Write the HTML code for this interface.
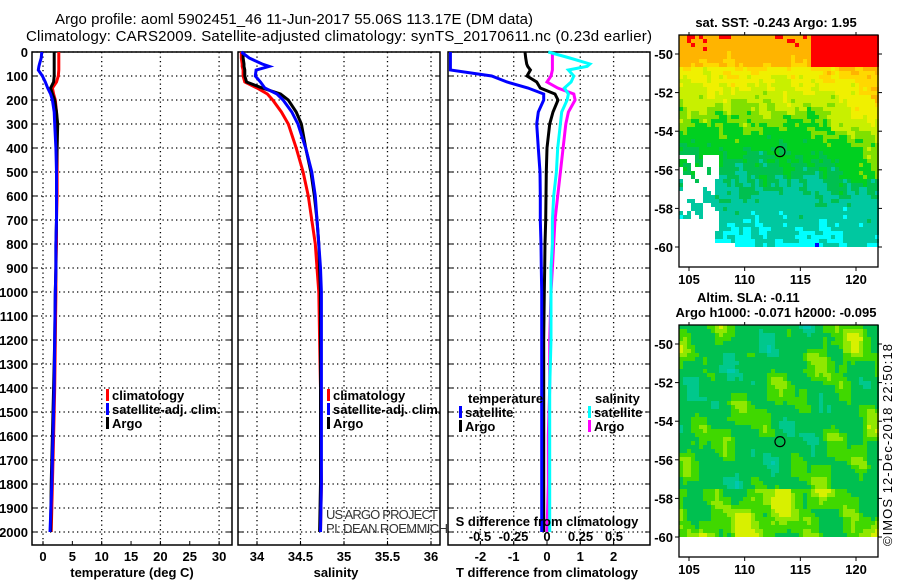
<!DOCTYPE html>
<html><head><meta charset="utf-8"><style>
html,body{margin:0;padding:0;background:#fff;width:900px;height:580px;overflow:hidden}
svg{display:block;font-family:"Liberation Sans",sans-serif}
.b{font-weight:bold;font-size:13px}
</style></head><body>
<svg id="c" width="900" height="580" viewBox="0 0 900 580">
<g id="maps"></g>
<g id="grid"></g>
<g id="lines"></g>
<g id="txt">
<text x="55" y="24" font-size="15" textLength="478">Argo profile: aoml 5902451_46 11-Jun-2017 55.06S 113.17E (DM data)</text>
<text x="26" y="41" font-size="15" textLength="626">Climatology: CARS2009. Satellite-adjusted climatology: synTS_20170611.nc (0.23d earlier)</text>
<text x="132" y="577" class="b" text-anchor="middle">temperature (deg C)</text>
<text x="336" y="577" class="b" text-anchor="middle">salinity</text>
<text x="547" y="577" class="b" text-anchor="middle">T difference from climatology</text>
<text x="547" y="526" class="b" text-anchor="middle">S difference from climatology</text>
<text x="326" y="519" font-size="13" fill="#333" textLength="112">US ARGO PROJECT</text>
<text x="326" y="533" font-size="13" fill="#333" textLength="122">PI: DEAN ROEMMICH</text>
<text x="776" y="27" class="b" text-anchor="middle">sat. SST: -0.243 Argo: 1.95</text>
<text x="697" y="302" class="b">Altim. SLA: -0.11</text>
<text x="776" y="317" class="b" text-anchor="middle">Argo h1000: -0.071 h2000: -0.095</text>
<text transform="translate(892,546) rotate(-90)" font-size="13" textLength="202">©IMOS 12-Dec-2018 22:50:18</text>
</g>
<g id="leg"></g>
</svg>
<script>
// ---- data ----
const depths = [0,25,50,60,75,100,125,150,175,200,250,300,400,500,600,700,800,900,1000,1200,1400,1600,1800,2000];
const tempClim = [2.7,2.7,2.7,2.7,2.7,2.6,2.3,1.6,1.8,2.1,2.3,2.4,2.4,2.4,2.4,2.3,2.3,2.2,2.2,2.1,2.0,1.8,1.6,1.4];
const tempSat  = [-0.2,-0.3,-0.6,-0.7,-0.8,-0.1,0.4,0.8,1.3,1.6,1.9,2.0,2.2,2.3,2.3,2.3,2.2,2.2,2.1,2.0,1.9,1.7,1.5,1.2];
const tempArgo = [1.9,1.9,1.9,1.9,1.9,1.9,1.8,1.3,1.6,2.0,2.3,2.5,2.4,2.3,2.3,2.3,2.2,2.2,2.1,2.0,1.8,1.6,1.4,1.3];
const salClim = [33.82,33.82,33.83,33.83,33.84,33.84,33.86,34.0,34.12,34.18,34.28,34.36,34.45,34.53,34.59,34.63,34.67,34.69,34.71,34.72,34.73,34.73,34.74,34.73];
const salSat  = [33.82,33.91,34.06,34.14,33.99,33.98,34.04,34.09,34.23,34.30,34.40,34.47,34.56,34.63,34.67,34.69,34.71,34.73,34.74,34.74,34.74,34.74,34.74,34.73];
const salArgo = [33.84,33.84,33.85,33.85,33.86,33.86,33.88,34.06,34.27,34.36,34.45,34.51,34.56,34.62,34.66,34.69,34.71,34.72,34.73,34.73,34.73,34.73,34.73,34.72];
const dTSat  = [-2.9,-2.9,-2.9,-2.9,-2.9,-1.66,-1.2,-0.57,-0.1,-0.1,-0.26,-0.31,-0.26,-0.21,-0.2,-0.2,-0.18,-0.17,-0.16,-0.16,-0.16,-0.16,-0.16,-0.16];
const dTArgo = [-0.66,-0.64,-0.61,-0.58,-0.5,-0.6,-0.31,-0.2,0.24,0.33,0.18,0.08,0.0,-0.02,-0.03,-0.04,-0.06,-0.07,-0.08,-0.1,-0.1,-0.1,-0.1,-0.1];
const dSSat  = [0.01,0.17,0.32,0.3,0.16,0.2,0.18,0.13,0.16,0.15,0.11,0.1,0.08,0.07,0.05,0.04,0.04,0.03,0.03,0.03,0.02,0.02,0.02,0.02];
const dSArgo = [0.04,0.04,0.04,0.04,0.04,0.03,0.0,0.08,0.2,0.21,0.16,0.14,0.12,0.1,0.08,0.06,0.05,0.04,0.03,0.02,0.02,0.01,0.01,0.0];
const depthTicks = [0,100,200,300,400,500,600,700,800,900,1000,1100,1200,1300,1400,1500,1600,1700,1800,1900,2000];
const tTicks = [0,5,10,15,20,25,30];
const sTicks = [34,34.5,35,35.5,36];
const dTTicks = [-2,-1,0,1,2];
const dSTicks = [-0.5,-0.25,0,0.25,0.5];
const latTicks = [-50,-52,-54,-56,-58,-60];
const lonTicks = [105,110,115,120];

// ---- axes ----
const yD = d => 52 + d*0.24;
const xT = t => 43 + t*5.87;
const xS = s => 257 + (s-34)*87;
const xdT = t => 547 + t*33.3;
const xdS = s => 547 + s*134;
const TOP=52, BOT=545;
const NS='http://www.w3.org/2000/svg';
function mk(tag, attrs, parent){const e=document.createElementNS(NS,tag);for(const k in attrs)e.setAttribute(k,attrs[k]);parent.appendChild(e);return e;}
const G=document.getElementById('grid'), L=document.getElementById('lines'), LG=document.getElementById('leg'), M=document.getElementById('maps');

const panels=[{x0:32,x1:232,n:'temperature-panel',vg:[0,10,20,30].map(xT)},
              {x0:238,x1:440,n:'salinity-panel',vg:[34,34.5,35,35.5,36].map(xS)},
              {x0:448,x1:650,n:'difference-panel',vg:[-2,-1,1,2].map(xdT)}];
panels.forEach(p=>{
  depthTicks.forEach(d=>{
    const ln=mk('line',{x1:p.x0,x2:p.x1,y1:yD(d),y2:yD(d),stroke:'#000','stroke-width':1.3,'stroke-dasharray':'1.3 3.2'},G);
    
    
    mk('line',{x1:p.x0,x2:p.x0+5,y1:yD(d),y2:yD(d),stroke:'#000'},G);
    mk('line',{x1:p.x1-5,x2:p.x1,y1:yD(d),y2:yD(d),stroke:'#000'},G);
  });
  p.vg.forEach(x=>{
    const ln=mk('line',{x1:x,x2:x,y1:TOP,y2:BOT,stroke:'#000','stroke-width':1.3,'stroke-dasharray':'1.3 3.2'},G);
    
    
  });
  const r=mk('rect',{x:p.x0,y:TOP,width:p.x1-p.x0,height:BOT-TOP,fill:'none',stroke:'#000','stroke-width':1.5},G);
  
  
});
depthTicks.forEach(d=>{
  const t=mk('text',{x:28,y:yD(d)+5,'text-anchor':'end',class:'b'},G);t.textContent=d;
  
  
});
function xlabels(ticks,fx,y,name){ticks.forEach(v=>{const t=mk('text',{x:fx(v),y:y,'text-anchor':'middle',class:'b'},G);t.textContent=v;
  
  
  mk('line',{x1:fx(v),x2:fx(v),y1:BOT-4,y2:BOT,stroke:'#000'},G);});}
xlabels(tTicks,xT,561,'temperature-tick-label');
xlabels(sTicks,xS,561,'salinity-tick-label');
xlabels(dTTicks,xdT,561,'t-difference-tick-label');
dSTicks.forEach(v=>{const t=mk('text',{x:xdS(v),y:541,'text-anchor':'middle',class:'b'},G);t.textContent=v;
  
  });

function series(vals,fx,color,name){
  const pts=vals.map((v,i)=>fx(v).toFixed(1)+','+yD(depths[i]).toFixed(1)).join(' ');
  const pl=mk('polyline',{points:pts,fill:'none',stroke:color,'stroke-width':3,'stroke-linejoin':'miter'},L);
  
  
}
series(tempClim,xT,'#ff0000','temperature-climatology-line');
series(tempArgo,xT,'#000000','temperature-argo-line');
series(tempSat,xT,'#0000ff','temperature-satellite-line');
series(salClim,xS,'#ff0000','salinity-climatology-line');
series(salArgo,xS,'#000000','salinity-argo-line');
series(salSat,xS,'#0000ff','salinity-satellite-line');
series(dTArgo,xdT,'#000000','t-diff-argo-line');
series(dTSat,xdT,'#0000ff','t-diff-satellite-line');
series(dSArgo,xdS,'#ff00ff','s-diff-argo-line');
series(dSSat,xdS,'#00ffff','s-diff-satellite-line');

function legendItem(x,y,color,label,name){
  mk('rect',{x:x,y:y-10,width:3,height:12,fill:color},LG);
  const t=mk('text',{x:x+6,y:y+1,class:'b'},LG);t.textContent=label;
  
  
}
legendItem(106,399,'#ff0000','climatology','legend-climatology');
legendItem(106,413,'#0000ff','satellite-adj. clim.','legend-satellite-adj');
legendItem(106,427,'#000000','Argo','legend-argo');
legendItem(327,399,'#ff0000','climatology','legend-climatology-2');
legendItem(327,413,'#0000ff','satellite-adj. clim.','legend-satellite-adj-2');
legendItem(327,427,'#000000','Argo','legend-argo-2');
(function(){const t=mk('text',{x:468,y:403,class:'b'},LG);t.textContent='temperature';
 
 
 const u=mk('text',{x:595,y:403,class:'b'},LG);u.textContent='salinity';
 
 })();
legendItem(459,416,'#0000ff','satellite','legend-t-satellite');
legendItem(459,430,'#000000','Argo','legend-t-argo');
legendItem(588,416,'#00ffff','satellite','legend-s-satellite');
legendItem(588,430,'#ff00ff','Argo','legend-s-argo');

// ---- maps (raster decoration) ----
const mx0=679,mx1=878;
const lonX = lon => 689 + (lon-105)*(167/15);
function nz(a,b){return Math.sin(a*1.7+b*2.3)*0.5+Math.sin(a*0.63-b*1.21+1.3)*0.5+Math.sin(a*2.9-b*0.9+0.4)*0.3;}
function fine(a,b){return Math.sin(a*7.3+b*5.1)*Math.sin(a*4.7-b*8.3);}
function drawMap(ytop,ylat50,ylat60,isSST){
  const latY = lat => ylat50 + (-50-lat)*(ylat60-ylat50)/10;
  const cs=4;
  let html='';
  for(let y=ytop;y<latY(-60);y+=cs){
    for(let x=mx0;x<mx1;x+=cs){
      const lon=105+(x+cs/2-689)*15/167, lat=-50-(y+cs/2-ylat50)*10/(ylat60-ylat50);
      let col;
      if(isSST){
        if(lat<-55.3 && lon<107.8 && nz(lon*2,lat*2)>-0.2) continue;
        if(lat<-58.6 && lon<107.2) continue;
        if(lat<-59.7 && lon<109.2) continue;
        let v=lat>-55?1.6+(lat+55)*0.45:1.6+(lat+55)*0.28;
        if(lat>-50.6) v+=0.5;
        if(lon>116.5) v+= (lon-116.5)*0.16*(lat>-56.5?1:0.2);
        if(lat>-50.7 && lon>115.8) v+=1.6;
        v+=nz(lon*1.3,lat*1.6)*0.3+fine(lon,lat)*0.25;
        col=v>4.9?'#ff0000':v>4.0?'#ffb400':v>3.6?'#ffd800':v>3.1?'#f0f000':v>2.6?'#c8f000':v>2.2?'#80e000':v>1.5?'#00d020':v>1.1?'#00c050':v>0.35?'#00c8a0':v>-0.15?'#00ffff':'#0000ff';
      } else {
        let v=nz(lon*0.7,lat*0.9)*0.8+ (lat<-57.5?0.6:0)+ (lon>117&&lat>-55?0.3:0)+fine(lon*0.5,lat*0.5)*0.2;
        col=v>1.1?'#d8f000':v>0.75?'#90e800':v>0.3?'#40d800':v>-0.6?'#00c050':v>-1.0?'#00c88c':'#00c8b0';
      }
      html+=`<rect x="${x}" y="${y}" width="${cs}" height="${cs}" fill="${col}"/>`;
    }
  }
  const g=mk('g',{},M);g.innerHTML=html;
  
  
  const bot=isSST?267:557;
  const r=mk('rect',{x:mx0,y:ytop,width:mx1-mx0,height:bot-ytop,fill:'none',stroke:'#000','stroke-width':1.3},M);
  
  
  latTicks.forEach(la=>{const t=mk('text',{x:673,y:latY(la)+5,'text-anchor':'end',class:'b'},M);t.textContent=la;
    
    
    mk('line',{x1:mx1,x2:mx1+4,y1:latY(la),y2:latY(la),stroke:'#000'},M);
    mk('line',{x1:mx0-4,x2:mx0,y1:latY(la),y2:latY(la),stroke:'#000'},M);});
  lonTicks.forEach(lo=>{const t=mk('text',{x:lonX(lo),y:bot+17,'text-anchor':'middle',class:'b'},M);t.textContent=lo;
    
    
    mk('line',{x1:lonX(lo),x2:lonX(lo),y1:bot,y2:bot+4,stroke:'#000'},M);
    mk('line',{x1:lonX(lo),x2:lonX(lo),y1:ytop-3,y2:ytop,stroke:'#000'},M);});
  const c=mk('circle',{cx:lonX(113.17),cy:latY(-55.06),r:5,fill:'none',stroke:'#000','stroke-width':1.2},M);
  
  
}
drawMap(35,54,247,true);
drawMap(325,344,537,false);
</script>
</body></html>
